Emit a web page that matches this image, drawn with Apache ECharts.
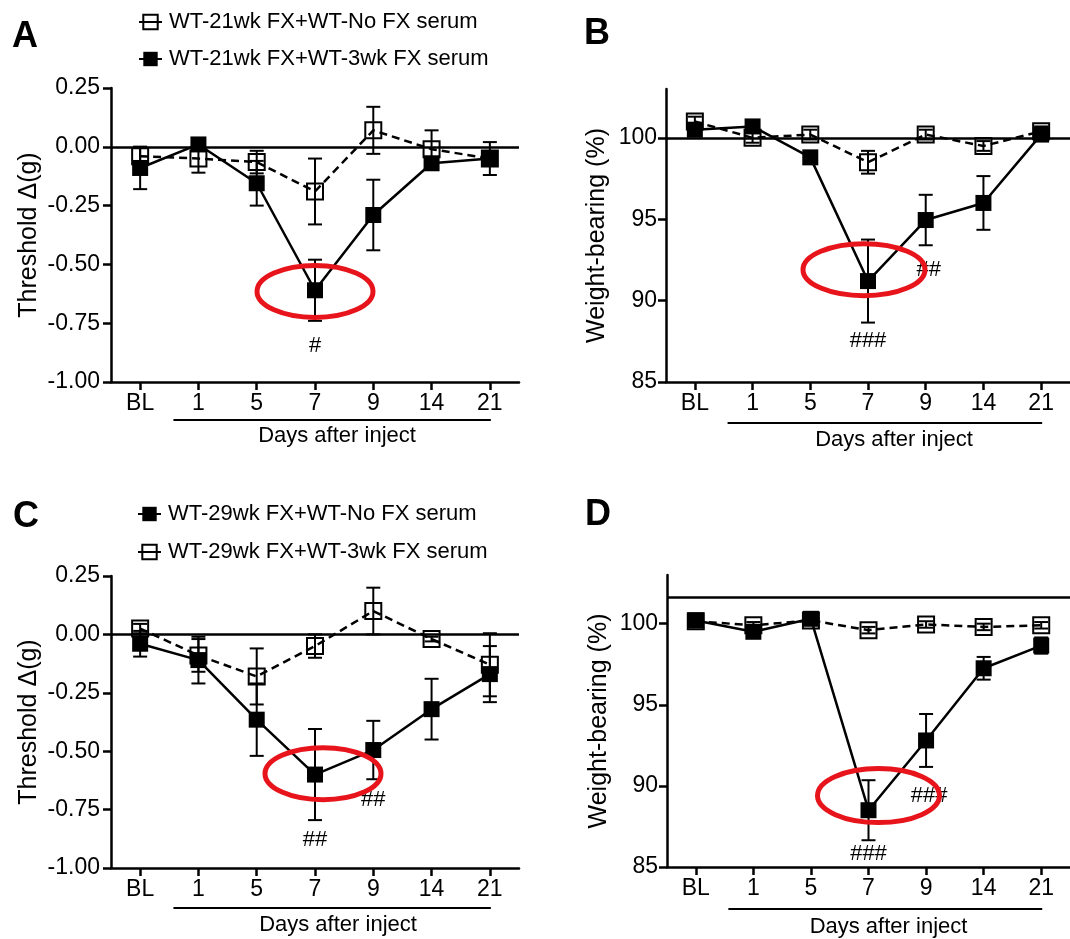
<!DOCTYPE html>
<html><head><meta charset="utf-8">
<script src="https://cdn.jsdelivr.net/npm/echarts@6/dist/echarts.min.js"></script>
<style>html,body{margin:0;padding:0;background:#fff}#c{width:1070px;height:939px}</style>
</head><body><div id="c"></div>
<script>
// ---------------- data ----------------
const days = ['BL', '1', '5', '7', '9', '14', '21'];
const threshTicks = [-1.00, -0.75, -0.50, -0.25, 0.00, 0.25];
const weightTicks = [85, 90, 95, 100];

const nameA_open = 'WT-21wk FX+WT-No FX serum';
const nameA_fill = 'WT-21wk FX+WT-3wk FX serum';
const nameC_fill = 'WT-29wk FX+WT-No FX serum';
const nameC_open = 'WT-29wk FX+WT-3wk FX serum';

// Panel A: threshold
const aOpenMean = [-0.04, -0.05, -0.065, -0.19, 0.07, -0.01, -0.05];
const aOpenErr  = [0.04, 0.06, 0.048, 0.14, 0.10, 0.08, 0.07];
const aFillMean = [-0.09, 0.01, -0.155, -0.61, -0.29, -0.07, -0.05];
const aFillErr  = [0.09, 0.01, 0.095, 0.13, 0.15, 0.02, 0.03];
// Panel B: weight-bearing
const bOpenMean = [101.0, 100.0, 100.2, 98.5, 100.2, 99.5, 100.4];
const bOpenErr  = [0.3, 0.3, 0.3, 0.7, 0.3, 0.3, 0.3];
const bFillMean = [100.5, 100.7, 98.8, 91.2, 94.95, 96.0, 100.2];
const bFillErr  = [0.3, 0.3, 0.3, 2.55, 1.55, 1.65, 0.3];
// Panel C: threshold
const cFillMean = [-0.04, -0.11, -0.365, -0.60, -0.495, -0.32, -0.17];
const cFillErr  = [0.055, 0.10, 0.155, 0.195, 0.125, 0.13, 0.12];
const cOpenMean = [0.025, -0.09, -0.18, -0.05, 0.10, -0.02, -0.13];
const cOpenErr  = [0.02, 0.07, 0.12, 0.05, 0.10, 0.01, 0.135];
// Panel D: weight-bearing
const dFillMean = [100.2, 99.5, 100.3, 88.5, 92.8, 97.25, 98.65];
const dFillErr  = [0.2, 0.2, 0.2, 1.85, 1.63, 0.7, 0.5];
const dOpenMean = [100.15, 99.9, 100.2, 99.6, 99.95, 99.8, 99.9];
const dOpenErr  = [0.2, 0.2, 0.2, 0.2, 0.2, 0.2, 0.2];

// reference lines
const refLines = [0, 100, 0, 101.6];

// significance marks (category, value, text)
const marksA = [{cat: '7', value: -0.845, text: '#'}];
const marksB = [{cat: '7', value: 87.5, text: '###'}, {cat: '9', value: 91.9, text: '##'}];
const marksC = [{cat: '7', value: -0.88, text: '##'}, {cat: '9', value: -0.71, text: '##'}];
const marksD = [{cat: '7', value: 85.8, text: '###'}, {cat: '9', value: 89.4, text: '###'}];

// red highlight ellipses (anchored on category/value)
const ringA = {cat: '7', value: -0.615};
const ringB = {cat: '7', value: 91.9};
const ringC = {cat: '7', value: -0.596};
const ringD = {cat: '7', value: 89.4};

// ---------------- chart ----------------
const FONT = '"Liberation Sans", Arial, Helvetica, sans-serif';
const chart = echarts.init(document.getElementById('c'), null, {renderer: 'canvas'});

const grids = [
  {left: 111, top: 88, width: 408, height: 294},
  {left: 666, top: 89, width: 407, height: 293},
  {left: 111, top: 576, width: 408, height: 292},
  {left: 667, top: 575, width: 412, height: 293}
];

function xAxis(gi, gap, shift) {
  return {
    type: 'category', gridIndex: gi, data: days, boundaryGap: true,
    name: 'Days after inject', nameLocation: 'middle', nameGap: gap,
    nameTextStyle: {fontSize: 22, color: '#000', fontFamily: FONT, padding: [0, 0, 0, shift * 2]},
    axisLine: {show: true, onZero: false, lineStyle: {color: '#000', width: 2.5}},
    axisTick: {show: true, alignWithLabel: true, length: 8, lineStyle: {color: '#000', width: 2.5}},
    axisLabel: {fontSize: 23, color: '#000', fontFamily: FONT, margin: 10, interval: 0},
    splitLine: {show: false}
  };
}
function yThresh(gi, gap) {
  return {
    type: 'value', gridIndex: gi, min: -1, max: 0.25, interval: 0.25,
    name: 'Threshold \u0394(g)', nameLocation: 'middle', nameRotate: 90, nameGap: gap,
    nameTextStyle: {fontSize: 25, color: '#000', fontFamily: FONT},
    axisLine: {show: true, lineStyle: {color: '#000', width: 2.5}},
    axisTick: {show: true, length: 8, lineStyle: {color: '#000', width: 2.5}},
    axisLabel: {fontSize: 23, color: '#000', fontFamily: FONT, margin: 11,
      formatter: v => v.toFixed(2)},
    splitLine: {show: false}
  };
}
function yWeight(gi, gap) {
  return {
    type: 'value', gridIndex: gi, min: 85, max: 103, interval: 5,
    name: 'Weight-bearing (%)', nameLocation: 'middle', nameRotate: 90, nameGap: gap,
    nameTextStyle: {fontSize: 25, color: '#000', fontFamily: FONT},
    axisLine: {show: true, lineStyle: {color: '#000', width: 2.5}},
    axisTick: {show: true, length: 8, customValues: weightTicks, lineStyle: {color: '#000', width: 2.5}},
    axisLabel: {fontSize: 23, color: '#000', fontFamily: FONT, margin: 9, customValues: weightTicks,
      formatter: v => (v % 5 === 0 ? String(v) : '')},
    splitLine: {show: false}
  };
}

function lineSeries(name, gi, mean, open, dashed, ref, z) {
  const s = {
    type: 'line', name, xAxisIndex: gi, yAxisIndex: gi, data: mean,
    symbol: 'rect', symbolSize: 16, animation: false, z: z,
    lineStyle: {color: '#000', width: 2.5, type: dashed ? [8, 5] : 'solid'},
    itemStyle: {color: open ? 'rgba(255,255,255,0)' : '#000', borderColor: '#000', borderWidth: open ? 2 : 0},
    emphasis: {disabled: true}
  };
  if (ref !== undefined && ref !== null) {
    s.markLine = {silent: true, symbol: 'none', animation: false, label: {show: false},
      lineStyle: {color: '#000', width: 2.5, type: 'solid'}, data: [{yAxis: ref}]};
  }
  return s;
}

function errSeries(gi, mean, err) {
  return {
    type: 'custom', xAxisIndex: gi, yAxisIndex: gi, silent: true, animation: false, z: 2,
    data: mean.map((m, i) => [i, m - err[i], m + err[i]]),
    encode: {x: 0, y: [1, 2]},
    renderItem: (p, api) => {
      const lo = api.coord([api.value(0), api.value(1)]);
      const hi = api.coord([api.value(0), api.value(2)]);
      const w = 7, st = {stroke: '#000', lineWidth: 2};
      return {type: 'group', children: [
        {type: 'line', shape: {x1: lo[0], y1: lo[1], x2: hi[0], y2: hi[1]}, style: st},
        {type: 'line', shape: {x1: lo[0] - w, y1: lo[1], x2: lo[0] + w, y2: lo[1]}, style: st},
        {type: 'line', shape: {x1: hi[0] - w, y1: hi[1], x2: hi[0] + w, y2: hi[1]}, style: st}
      ]};
    }
  };
}

function markSeries(gi, marks, dxs) {
  return {
    type: 'custom', xAxisIndex: gi, yAxisIndex: gi, silent: true, animation: false, z: 6,
    data: marks.map(m => [days.indexOf(m.cat), m.value]),
    renderItem: (p, api) => {
      const c = api.coord([api.value(0), api.value(1)]);
      const m = marks[p.dataIndex];
      return {type: 'text', x: c[0] + (dxs ? dxs[p.dataIndex] : 0), y: c[1], style: {
        text: m.text, fill: '#000', font: '22px ' + FONT,
        align: 'center', verticalAlign: 'middle', textAlign: 'center', textVerticalAlign: 'middle'}};
    }
  };
}

function ringSeries(gi, ring, dx, rx, ry) {
  return {
    type: 'custom', xAxisIndex: gi, yAxisIndex: gi, silent: true, animation: false, z: 10,
    data: [[days.indexOf(ring.cat), ring.value]],
    renderItem: (p, api) => {
      const c = api.coord([api.value(0), api.value(1)]);
      return {type: 'ellipse', shape: {cx: c[0] + dx, cy: c[1], rx: rx, ry: ry},
        style: {fill: 'none', stroke: '#e8141c', lineWidth: 5}};
    }
  };
}

const letter = (t, l, tp) => ({text: t, left: l, top: tp, padding: 0,
  textStyle: {fontSize: 36, fontWeight: 'bold', color: '#000', fontFamily: FONT}});

const legendBase = {
  orient: 'vertical', itemWidth: 23, itemHeight: 18, selectedMode: false,
  textStyle: {fontSize: 22, color: '#000', fontFamily: FONT, lineHeight: 24, padding: [0, 0, 0, 2]},
  lineStyle: {type: 'solid', width: 2}
};

const option = {
  backgroundColor: '#fff',
  animation: false,
  title: [letter('A', 12, 19), letter('B', 584, 16), letter('C', 13, 499), letter('D', 585, 497)],
  legend: [
    Object.assign({}, legendBase, {data: [nameA_open, nameA_fill], left: 133, top: 5, itemGap: 13}),
    Object.assign({}, legendBase, {data: [nameC_fill, nameC_open], left: 132, top: 497, itemGap: 14})
  ],
  grid: grids,
  xAxis: [xAxis(0, 43, 22), xAxis(1, 47, 26), xAxis(2, 46, 23), xAxis(3, 49, 20)],
  yAxis: [yThresh(0, 69), yWeight(1, 56), yThresh(2, 69), yWeight(3, 55)],
  series: [
    // A
    errSeries(0, aFillMean, aFillErr), errSeries(0, aOpenMean, aOpenErr),
    lineSeries(nameA_fill, 0, aFillMean, false, false, refLines[0], 3),
    lineSeries(nameA_open, 0, aOpenMean, true, true, null, 4),
    markSeries(0, marksA), ringSeries(0, ringA, 0, 58, 26),
    // B
    errSeries(1, bFillMean, bFillErr), errSeries(1, bOpenMean, bOpenErr),
    lineSeries(nameA_open, 1, bOpenMean, true, true, null, 3),
    lineSeries(nameA_fill, 1, bFillMean, false, false, refLines[1], 4),
    markSeries(1, marksB, [0, 3]), ringSeries(1, ringB, -4, 61, 26),
    // C
    errSeries(2, cFillMean, cFillErr), errSeries(2, cOpenMean, cOpenErr),
    lineSeries(nameC_fill, 2, cFillMean, false, false, refLines[2], 3),
    lineSeries(nameC_open, 2, cOpenMean, true, true, null, 4),
    markSeries(2, marksC), ringSeries(2, ringC, 8, 58, 26),
    // D
    errSeries(3, dFillMean, dFillErr), errSeries(3, dOpenMean, dOpenErr),
    lineSeries(nameC_open, 3, dOpenMean, true, true, null, 3),
    lineSeries(nameC_fill, 3, dFillMean, false, false, refLines[3], 4),
    markSeries(3, marksD, [0, 3]), ringSeries(3, ringD, 10, 61, 27)
  ]
};
chart.setOption(option);

// underline beneath "1 ... 21" (days after inject bracket)
const underlineOffsets = [38, 41, 40, 42];
const yMins = [-1, 85, -1, 85];
const graphics = [0, 1, 2, 3].map(gi => {
  const p1 = chart.convertToPixel({gridIndex: gi}, ['1', yMins[gi]]);
  const p2 = chart.convertToPixel({gridIndex: gi}, ['21', yMins[gi]]);
  const y = p1[1] + underlineOffsets[gi];
  return {type: 'line', shape: {x1: p1[0] - 25, y1: y, x2: p2[0] + 1, y2: y},
    style: {stroke: '#000', lineWidth: 1.8}, silent: true};
});
chart.setOption({graphic: graphics});
</script>
</body></html>
